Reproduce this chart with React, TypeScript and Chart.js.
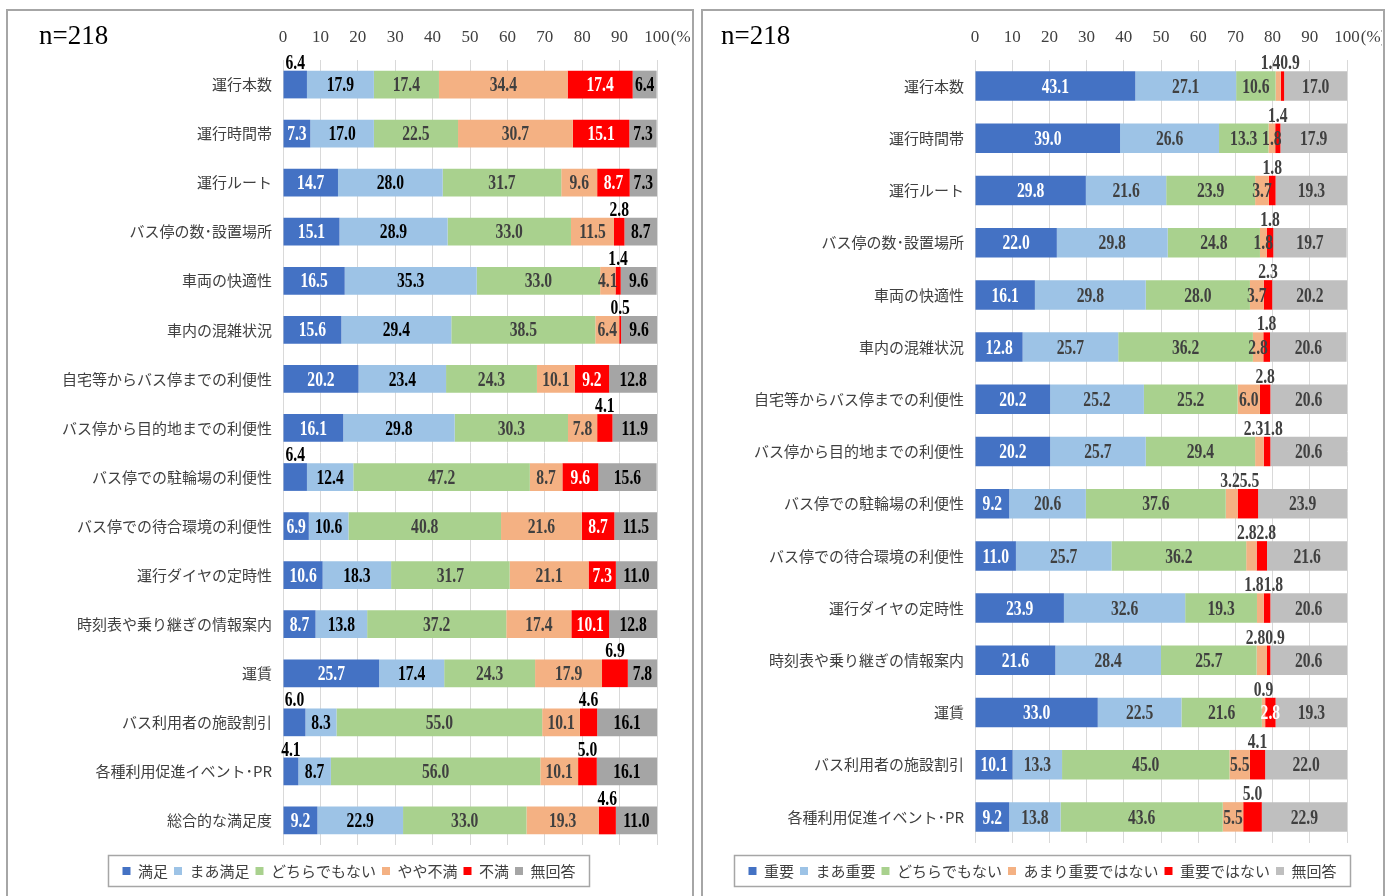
import React, { useEffect, useRef } from 'react';
import { Chart, registerables } from 'chart.js';

Chart.register(...registerables);

// ---------- data ----------
const sampleLabel = 'n=218';

const leftCategories = [
  '運行本数', '運行時間帯', '運行ルート', 'バス停の数･設置場所', '車両の快適性', '車内の混雑状況',
  '自宅等からバス停までの利便性', 'バス停から目的地までの利便性', 'バス停での駐輪場の利便性',
  'バス停での待合環境の利便性', '運行ダイヤの定時性', '時刻表や乗り継ぎの情報案内', '運賃',
  'バス利用者の施設割引', '各種利用促進イベント･PR', '総合的な満足度',
];
const leftSeriesNames = ['満足', 'まあ満足', 'どちらでもない', 'やや不満', '不満', '無回答'];
const satisfied = [6.4, 7.3, 14.7, 15.1, 16.5, 15.6, 20.2, 16.1, 6.4, 6.9, 10.6, 8.7, 25.7, 6.0, 4.1, 9.2];
const fairlySatisfied = [17.9, 17.0, 28.0, 28.9, 35.3, 29.4, 23.4, 29.8, 12.4, 10.6, 18.3, 13.8, 17.4, 8.3, 8.7, 22.9];
const neutralL = [17.4, 22.5, 31.7, 33.0, 33.0, 38.5, 24.3, 30.3, 47.2, 40.8, 31.7, 37.2, 24.3, 55.0, 56.0, 33.0];
const somewhatDissatisfied = [34.4, 30.7, 9.6, 11.5, 4.1, 6.4, 10.1, 7.8, 8.7, 21.6, 21.1, 17.4, 17.9, 10.1, 10.1, 19.3];
const dissatisfied = [17.4, 15.1, 8.7, 2.8, 1.4, 0.5, 9.2, 4.1, 9.6, 8.7, 7.3, 10.1, 6.9, 4.6, 5.0, 4.6];
const noAnswerL = [6.4, 7.3, 7.3, 8.7, 9.6, 9.6, 12.8, 11.9, 15.6, 11.5, 11.0, 12.8, 7.8, 16.1, 16.1, 11.0];

const rightCategories = leftCategories.slice(0, 15);
const rightSeriesNames = ['重要', 'まあ重要', 'どちらでもない', 'あまり重要ではない', '重要ではない', '無回答'];
const important = [43.1, 39.0, 29.8, 22.0, 16.1, 12.8, 20.2, 20.2, 9.2, 11.0, 23.9, 21.6, 33.0, 10.1, 9.2];
const fairlyImportant = [27.1, 26.6, 21.6, 29.8, 29.8, 25.7, 25.2, 25.7, 20.6, 25.7, 32.6, 28.4, 22.5, 13.3, 13.8];
const neutralR = [10.6, 13.3, 23.9, 24.8, 28.0, 36.2, 25.2, 29.4, 37.6, 36.2, 19.3, 25.7, 21.6, 45.0, 43.6];
const notVeryImportant = [1.4, 1.8, 3.7, 1.8, 3.7, 2.8, 6.0, 2.3, 3.2, 2.8, 1.8, 2.8, 0.9, 5.5, 5.5];
const notImportant = [0.9, 1.4, 1.8, 1.8, 2.3, 1.8, 2.8, 1.8, 5.5, 2.8, 1.8, 0.9, 2.8, 4.1, 5.0];
const noAnswerR = [17.0, 17.9, 19.3, 19.7, 20.2, 20.6, 20.6, 20.6, 23.9, 21.6, 20.6, 20.6, 19.3, 22.0, 22.9];

// [row, series] whose value label sits above the bar
const leftAbove: [number, number][] = [[0, 0], [3, 4], [4, 4], [5, 4], [7, 4], [8, 0], [12, 4], [13, 0], [13, 4], [14, 0], [14, 4], [15, 4]];
const rightAbove: [number, number][] = [
  [0, 3], [0, 4], [1, 4], [2, 4], [3, 4], [4, 4], [5, 4], [6, 4], [7, 3], [7, 4], [8, 3], [8, 4],
  [9, 3], [9, 4], [10, 3], [10, 4], [11, 3], [11, 4], [12, 3], [13, 4], [14, 4],
];

// ---------- styles ----------
const leftColors = ['#4472C4', '#9DC3E6', '#A9D18E', '#F4B183', '#FF0000', '#A5A5A5'];
const rightColors = ['#4472C4', '#9DC3E6', '#A9D18E', '#F4B183', '#FF0000', '#BFBFBF'];
const leftLabelColors = ['#FFFFFF', '#000000', '#404040', '#404040', '#FFFFFF', '#000000'];
const rightLabelColors = ['#FFFFFF', '#404040', '#404040', '#404040', '#FFFFFF', '#404040'];

const TICK_FONT = '"Liberation Serif", serif';
const CAT_FONT = '"Noto Sans CJK JP", sans-serif';

function drawScaled(ctx: CanvasRenderingContext2D, text: string, x: number, y: number, align: CanvasTextAlign, color: string) {
  ctx.save();
  ctx.translate(x, y);
  ctx.scale(0.78, 1);
  ctx.textAlign = align;
  ctx.textBaseline = 'alphabetic';
  ctx.fillStyle = color;
  ctx.fillText(text, 0, 0);
  ctx.restore();
}

function makeLabelPlugin(above: [number, number][], labelColors: string[], aboveColor: string, weight: string) {
  return {
    id: 'segLabels',
    afterDatasetsDraw(chart: any) {
      const ctx: CanvasRenderingContext2D = chart.ctx;
      const size = 20;
      ctx.save();
      ctx.font = `${weight} ${size}px "Liberation Serif", serif`;
      const isAbove = (r: number, s: number) => above.some(([a, b]) => a === r && b === s);
      const rows = chart.data.labels.length;
      for (let r = 0; r < rows; r++) {
        const items: any[] = [];
        chart.data.datasets.forEach((ds: any, s: number) => {
          const el = chart.getDatasetMeta(s).data[r];
          const p = el.getProps(['x', 'base', 'y', 'height'], true);
          const text = Number(ds.data[r]).toFixed(1);
          const cx = (p.x + p.base) / 2;
          if (isAbove(r, s)) items.push({ s, cx, top: p.y - p.height / 2, text });
          else drawScaled(ctx, text, cx, p.y + size * 0.33, 'center', labelColors[s]);
        });
        for (let i = 0; i < items.length; i++) {
          const it = items[i];
          const nx = items[i + 1];
          if (nx && nx.s === it.s + 1) {
            const m = (it.cx + nx.cx) / 2;
            drawScaled(ctx, it.text, m, it.top - 2, 'right', aboveColor);
            drawScaled(ctx, nx.text, m, nx.top - 2, 'left', aboveColor);
            i++;
          } else {
            drawScaled(ctx, it.text, it.cx, it.top - 2, 'center', aboveColor);
          }
        }
      }
      ctx.restore();
    },
  };
}

const extrasPlugin = {
  id: 'extras',
  afterDraw(chart: any) {
    const ctx: CanvasRenderingContext2D = chart.ctx;
    // legend frame
    const boxes = chart.legend?.legendHitBoxes || [];
    if (boxes.length) {
      const minX = Math.min(...boxes.map((b: any) => b.left));
      const maxX = Math.max(...boxes.map((b: any) => b.left + b.width));
      const cy = boxes[0].top + boxes[0].height / 2;
      ctx.save();
      ctx.strokeStyle = '#A6A6A6';
      ctx.lineWidth = 1.5;
      ctx.strokeRect(minX - 14, cy - 15.5, maxX - minX + 28, 31);
      ctx.restore();
    }
    // "(%)" after last tick
    const xs = chart.scales.x;
    ctx.save();
    ctx.font = `17px ${TICK_FONT}`;
    ctx.fillStyle = '#404040';
    ctx.textBaseline = 'middle';
    ctx.textAlign = 'left';
    const w = ctx.measureText('100').width;
    ctx.fillText('(%)', xs.getPixelForValue(100) + w / 2 + 1, chart.chartArea.top - 12 - 10.2);
    ctx.restore();
  },
};

function buildConfig(categories: string[], names: string[], series: number[][], colors: string[], yWidth: number, rightWidth: number, titleGap: number, labelPlugin: any) {
  return {
    type: 'bar',
    data: {
      labels: categories,
      datasets: series.map((d, i) => ({
        label: names[i],
        data: d,
        backgroundColor: colors[i],
        borderWidth: 0,
        barPercentage: 0.565,
        categoryPercentage: 1,
      })),
    },
    options: {
      indexAxis: 'y',
      animation: false,
      responsive: false,
      layout: { padding: { left: 0, right: 0, top: 0, bottom: 7.5 } },
      scales: {
        x: {
          type: 'linear',
          position: 'top',
          stacked: true,
          min: 0,
          max: 100,
          ticks: { stepSize: 10, padding: 12, color: '#404040', font: { family: TICK_FONT, size: 17 } },
          grid: { color: '#D9D9D9', lineWidth: 1, drawTicks: false },
          border: { display: false },
          afterFit: (s: any) => { s.height = 46; },
        },
        y: {
          type: 'category',
          stacked: true,
          ticks: { autoSkip: false, padding: 11, color: '#404040', font: { family: CAT_FONT, size: 15 } },
          grid: { display: false, drawTicks: false },
          border: { display: false },
          afterFit: (s: any) => { s.width = yWidth; },
        },
        yRight: {
          type: 'category',
          position: 'right',
          ticks: { display: false },
          grid: { display: false, drawTicks: false },
          border: { display: false },
          afterFit: (s: any) => { s.width = rightWidth; },
        },
      },
      plugins: {
        tooltip: { enabled: false },
        legend: {
          position: 'bottom',
          title: { display: true, text: '', font: { size: 10 }, padding: { top: 0, bottom: titleGap } },
          labels: { boxWidth: 8, boxHeight: 8, padding: 6, color: '#404040', font: { family: CAT_FONT, size: 15 } },
        },
      },
    },
    plugins: [labelPlugin, extrasPlugin],
  } as any;
}

function ChartCanvas({ config, left, top, width, height }: any) {
  const ref = useRef<HTMLCanvasElement>(null);
  useEffect(() => {
    if (!ref.current) return;
    const chart = new Chart(ref.current, config);
    return () => chart.destroy();
  }, []);
  return (
    <canvas
      ref={ref}
      width={width}
      height={height}
      style={{ position: 'absolute', left, top, width, height }}
    />
  );
}

const panelStyle = (left: number, top: number, width: number): React.CSSProperties => ({
  position: 'absolute', left, top, width, height: 900, border: '2px solid #A6A6A6', boxSizing: 'border-box', background: '#fff',
});

const nStyle = (left: number): React.CSSProperties => ({
  position: 'absolute', left, top: 22, fontFamily: TICK_FONT, fontSize: 27, lineHeight: 1, color: '#000', whiteSpace: 'nowrap',
});

export default function App() {
  const leftConfig = buildConfig(
    leftCategories, leftSeriesNames,
    [satisfied, fairlySatisfied, neutralL, somewhatDissatisfied, dissatisfied, noAnswerL],
    leftColors, 275, 33, 0.5,
    makeLabelPlugin(leftAbove, leftLabelColors, '#000000', 'bold'),
  );
  const rightConfig = buildConfig(
    rightCategories, rightSeriesNames,
    [important, fairlyImportant, neutralR, notVeryImportant, notImportant, noAnswerR],
    rightColors, 272, 35, 2.5,
    makeLabelPlugin(rightAbove, rightLabelColors, '#404040', 'bold'),
  );
  return (
    <div style={{ position: 'absolute', left: 0, top: 0, width: 1394, height: 896, overflow: 'hidden', background: '#fff' }}>
      <div style={panelStyle(6, 9, 688)} />
      <div style={panelStyle(701, 9, 684)} />
      <ChartCanvas config={leftConfig} left={8} top={14} width={682} height={882} />
      <ChartCanvas config={rightConfig} left={703} top={14} width={679} height={882} />
      <div style={nStyle(39)}>{sampleLabel}</div>
      <div style={nStyle(721)}>{sampleLabel}</div>
    </div>
  );
}
